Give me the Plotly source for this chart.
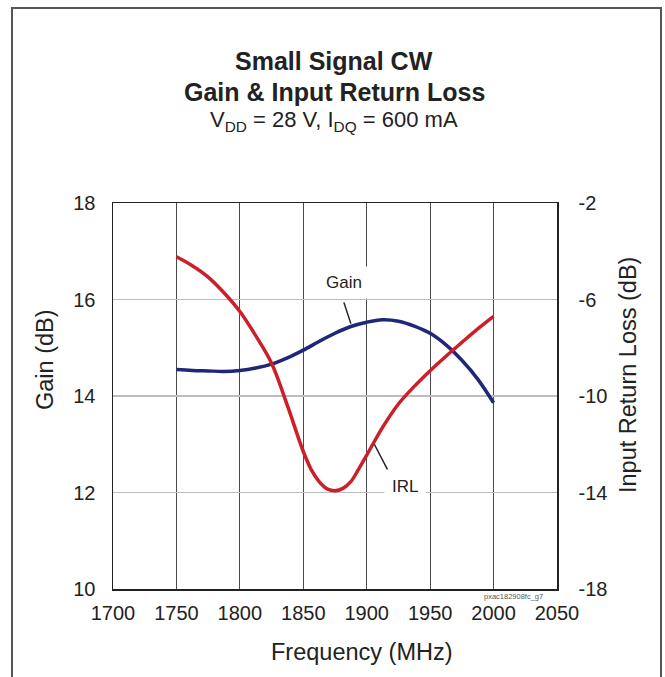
import plotly.graph_objects as go

freq_gain = [1750, 1762.5, 1775, 1787.5, 1800, 1812.5, 1825, 1837.5, 1850, 1862.5, 1875,
             1887.5, 1900, 1912.5, 1925, 1937.5, 1950, 1962.5, 1975, 1987.5, 2000]
gain_db = [14.55, 14.53, 14.52, 14.51, 14.53, 14.58, 14.66, 14.79, 14.95, 15.13, 15.30,
           15.44, 15.53, 15.58, 15.55, 15.45, 15.30, 15.06, 14.74, 14.35, 13.86]

freq_irl = [1750, 1762.5, 1775, 1787.5, 1800, 1812.5, 1825, 1837.5, 1850, 1856.25, 1862.5,
            1868.75, 1875, 1881.25, 1887.5, 1893.75, 1900, 1912.5, 1925, 1937.5, 1950,
            1962.5, 1975, 1987.5, 2000]
irl_db = [-4.23, -4.6, -5.07, -5.72, -6.5, -7.5, -8.64, -10.4, -12.3, -13.05, -13.55,
          -13.85, -13.93, -13.83, -13.55, -13.02, -12.45, -11.3, -10.33, -9.6, -8.95,
          -8.35, -7.78, -7.22, -6.7]

x_ticks = [1700, 1750, 1800, 1850, 1900, 1950, 2000, 2050]
gain_ticks = [10, 12, 14, 16, 18]
irl_ticks = [-18, -14, -10, -6, -2]
irl_tick_text = ["-18", "-14", "-10", "-6", "-2"]

FONT = "Liberation Sans, Arial, sans-serif"
TXT = "#222"

fig = go.Figure()
fig.add_trace(go.Scatter(x=freq_gain, y=gain_db, mode="lines",
                         line=dict(color="#1f2878", width=3.5, shape="spline", smoothing=1),
                         showlegend=False, hoverinfo="skip"))
fig.add_trace(go.Scatter(x=freq_irl, y=irl_db, mode="lines", yaxis="y2",
                         line=dict(color="#cc1f2a", width=3.5, shape="spline", smoothing=1),
                         showlegend=False, hoverinfo="skip"))

fig.update_layout(
    width=665, height=677,
    margin=dict(l=113, r=108, t=203, b=88),
    paper_bgcolor="white", plot_bgcolor="white",
    font=dict(family=FONT, color=TXT, size=20),
    xaxis=dict(range=[1700, 2050], tickvals=x_ticks, showgrid=True, gridcolor="#4a4a4a", gridwidth=1.2,
               showline=True, linecolor="#222", linewidth=1.5, mirror=True, zeroline=False,
               ticks="", ticklabelstandoff=5, tickfont=dict(size=20, color=TXT)),
    yaxis=dict(range=[10, 18], tickvals=gain_ticks, showgrid=True, gridcolor="#bdbdbd", gridwidth=1.2,
               showline=True, linecolor="#222", linewidth=1.5, zeroline=False, ticks="",
               ticklabelstandoff=12, tickfont=dict(size=20, color=TXT)),
    yaxis2=dict(range=[-18, -2], tickvals=irl_ticks, ticktext=irl_tick_text, overlaying="y", side="right",
                showgrid=False, showline=True, linecolor="#222", linewidth=1.5, zeroline=False, ticks="",
                ticklabelstandoff=16, tickfont=dict(size=20, color=TXT)),
)

def px(xp):
    return (xp - 113) / 444

def py(yp):
    return (589 - yp) / 386

# titles
fig.add_annotation(xref="paper", yref="paper", x=px(334), y=py(61), text="<b>Small Signal CW</b>",
                   showarrow=False, font=dict(size=25, color=TXT), xanchor="center", yanchor="middle")
fig.add_annotation(xref="paper", yref="paper", x=px(334), y=py(92), text="<b>Gain &amp; Input Return Loss</b>",
                   showarrow=False, font=dict(size=25, color=TXT), xanchor="center", yanchor="middle")
fig.add_annotation(xref="paper", yref="paper", x=px(334), y=py(121),
                   text="V<sub>DD</sub> = 28 V, I<sub>DQ</sub> = 600 mA",
                   showarrow=False, font=dict(size=22, color=TXT), xanchor="center", yanchor="middle")

# axis titles
fig.add_annotation(xref="paper", yref="paper", x=px(45), y=py(360), text="Gain (dB)", textangle=-90,
                   showarrow=False, font=dict(size=23.5, color=TXT), xanchor="center", yanchor="middle")
fig.add_annotation(xref="paper", yref="paper", x=px(628), y=py(375), text="Input Return Loss (dB)", textangle=-90,
                   showarrow=False, font=dict(size=23.5, color=TXT), xanchor="center", yanchor="middle")
fig.add_annotation(xref="paper", yref="paper", x=px(362), y=py(652), text="Frequency (MHz)",
                   showarrow=False, font=dict(size=23.5, color=TXT), xanchor="center", yanchor="middle")

# curve labels with leader lines
fig.add_shape(type="line", xref="x", yref="y", x0=1882, y0=15.94, x1=1887.5, y1=15.5, line=dict(color="#222", width=1.5))
fig.add_annotation(xref="x", yref="y", x=1882, y=16.35, text="Gain", showarrow=False,
                   font=dict(size=17, color=TXT), bgcolor="white", borderpad=6)
fig.add_shape(type="line", xref="x", yref="y", x0=1906, y0=13.0, x1=1916.5, y1=12.47, line=dict(color="#222", width=1.5))
fig.add_annotation(xref="x", yref="y", x=1930, y=12.12, text="IRL", showarrow=False,
                   font=dict(size=17, color=TXT), bgcolor="white", borderpad=7)

# figure id
fig.add_annotation(xref="paper", yref="paper", x=px(513), y=py(596), text="pxac182908fc_g7",
                   showarrow=False, font=dict(size=7.5, color="#555"), xanchor="center", yanchor="middle")

# outer frame
fig.add_shape(type="rect", xref="paper", yref="paper", x0=px(12), x1=px(661),
              y0=py(700), y1=py(8), line=dict(color="#555", width=2), layer="below")

fig.write_html("out.html", config={"displayModeBar": False, "staticPlot": True},
               post_script="document.body.style.margin='0';document.body.style.overflow='hidden';")
